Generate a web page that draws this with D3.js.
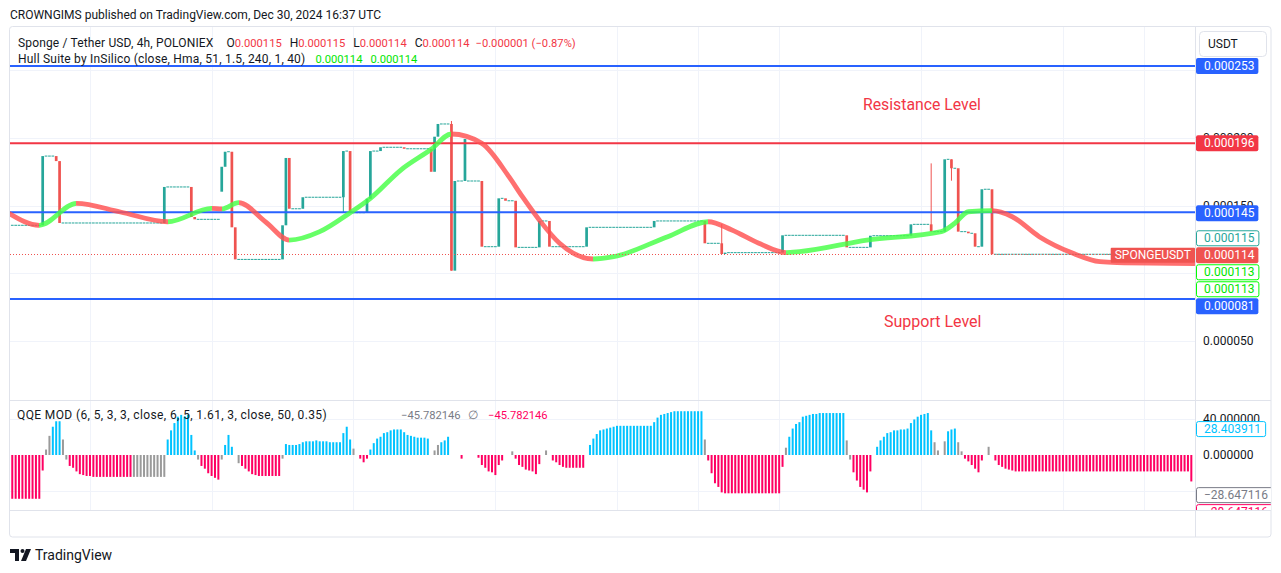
<!DOCTYPE html>
<html><head><meta charset="utf-8">
<script src="https://cdn.jsdelivr.net/npm/d3@7"></script>
<style>
html,body{margin:0;padding:0;background:#fff;}
svg{display:block;font-family:Roboto,"Noto Sans",sans-serif;}
</style></head><body>
<svg id="c" width="1281" height="573"></svg>
<script>
// ---------------- DATA ----------------
// bar numbers = count of 4h bars since 2024-11-01 00:00 UTC
const publishText = "CROWNGIMS published on TradingView.com, Dec 30, 2024 16:37 UTC";
const symbolTitle = "Sponge / Tether USD, 4h, POLONIEX";
const ohlcNames = ["O","H","L","C"];
const ohlcValues = ["0.000115","0.000115","0.000114","0.000114"];
const changeText = "\u22120.000001 (\u22120.87%)";
const hullTitle = "Hull Suite by InSilico (close, Hma, 51, 1.5, 240, 1, 40)";
const hullValues = ["0.000114","0.000114"];
const qqeTitle = "QQE MOD (6, 5, 3, 3, close, 6, 5, 1.61, 3, close, 50, 0.35)";
const qqeLegendValues = ["\u221245.782146","\u221245.782146"];

// candles with movement: [bar, open, high, low, close]
const candles = [
 [10,135.4e-6,186.5e-6,135.4e-6,186.5e-6],[14,186.5e-6,186.5e-6,182.8e-6,182.8e-6],[15,182.8e-6,182.8e-6,137.1e-6,137.1e-6],
 [46,137.1e-6,163.7e-6,137.1e-6,163.7e-6],[54,163.7e-6,163.7e-6,141.5e-6,141.5e-6],[55,141.5e-6,141.5e-6,139.8e-6,139.8e-6],
 [63,160.2e-6,178.6e-6,160.2e-6,178.6e-6],[64,178.6e-6,189.7e-6,178.6e-6,189.7e-6],[66,189.7e-6,189.7e-6,133.9e-6,133.9e-6],
 [67,133.9e-6,133.9e-6,110.2e-6,110.2e-6],[81,110.2e-6,135.4e-6,110.2e-6,135.4e-6],[82,135.4e-6,185.1e-6,135.4e-6,185.1e-6],
 [83,185.1e-6,185.1e-6,147.6e-6,147.6e-6],[87,147.6e-6,156.1e-6,147.6e-6,156.1e-6],[99,156.1e-6,190.2e-6,144.7e-6,190.2e-6],
 [101,190.2e-6,190.2e-6,144.7e-6,144.7e-6],[106,144.7e-6,155.0e-6,144.7e-6,155.0e-6],[107,155.0e-6,190.2e-6,155.0e-6,190.2e-6],
 [110,190.2e-6,193.0e-6,190.2e-6,193.0e-6],[117,193.0e-6,193.0e-6,191.9e-6,191.9e-6],[125,191.9e-6,191.9e-6,174.9e-6,174.9e-6],
 [126,174.9e-6,200.8e-6,174.9e-6,200.8e-6],[127,200.8e-6,210.2e-6,200.8e-6,210.2e-6],[131,210.2e-6,212.4e-6,101.9e-6,101.9e-6],
 [132,101.9e-6,168.1e-6,101.9e-6,168.1e-6],[135,168.1e-6,199.1e-6,168.1e-6,199.1e-6],[140,168.1e-6,168.1e-6,119.6e-6,119.6e-6],
 [145,119.6e-6,155.3e-6,119.6e-6,155.3e-6],[147,155.3e-6,155.3e-6,153.5e-6,153.5e-6],[150,153.5e-6,153.5e-6,119.1e-6,119.1e-6],
 [157,119.1e-6,138.6e-6,119.1e-6,138.6e-6],[160,138.6e-6,138.6e-6,119.6e-6,119.6e-6],[171,119.6e-6,133.9e-6,119.6e-6,133.9e-6],
 [191,133.9e-6,138.6e-6,133.9e-6,138.6e-6],[206,138.6e-6,138.6e-6,122.1e-6,122.1e-6],[211,122.1e-6,136.3e-6,114.2e-6,114.2e-6],
 [212,114.2e-6,115.2e-6,114.2e-6,115.2e-6],[229,115.2e-6,128.0e-6,115.2e-6,128.0e-6],[248,128.0e-6,128.0e-6,119.1e-6,119.1e-6],
 [255,119.1e-6,127.7e-6,119.1e-6,127.7e-6],[267,127.7e-6,136.1e-6,127.7e-6,136.1e-6],[273,136.1e-6,181.1e-6,130.7e-6,130.7e-6],
 [277,130.7e-6,184.1e-6,130.7e-6,184.1e-6],[279,184.1e-6,184.1e-6,168.3e-6,177.5e-6],[281,177.5e-6,177.5e-6,130.7e-6,130.7e-6],
 [284,130.7e-6,130.7e-6,129.5e-6,129.5e-6],[286,129.5e-6,129.5e-6,119.6e-6,119.6e-6],[288,119.6e-6,162.0e-6,119.6e-6,162.0e-6],
 [291,162.0e-6,162.0e-6,114.0e-6,114.0e-6]
];
// runs of bars with no movement (O=H=L=C): [firstBar, lastBar, price]
const flatRuns = [
 [1,9,135.4e-6],[11,13,186.5e-6],[16,45,137.1e-6],[47,53,163.7e-6],[56,62,139.8e-6],[65,65,189.7e-6],[68,80,110.2e-6],
 [84,86,147.6e-6],[88,98,156.1e-6],[100,100,190.2e-6],[102,105,144.7e-6],[108,109,190.2e-6],[111,116,193.0e-6],
 [118,124,191.9e-6],[128,130,210.2e-6],[133,134,168.1e-6],[136,139,168.1e-6],[141,144,119.6e-6],[146,146,155.3e-6],
 [148,149,153.5e-6],[151,156,119.1e-6],[158,159,138.6e-6],[161,170,119.6e-6],[172,190,133.9e-6],[192,205,138.6e-6],
 [207,210,122.1e-6],[213,228,115.2e-6],[230,247,128.0e-6],[249,254,119.1e-6],[256,266,127.7e-6],[268,272,136.1e-6],
 [274,276,130.7e-6],[278,278,184.1e-6],[280,280,177.5e-6],[282,283,130.7e-6],[285,285,129.5e-6],[287,287,119.6e-6],
 [289,290,162.0e-6],[292,351,114.0e-6]
];
// Hull MA read points: [bar, value]
const hullPoints = [
 [0,144.2e-6],[9,135.4e-6],[20,151.6e-6],[33,145.2e-6],[47,138.0e-6],[60,147.9e-6],[63,147.5e-6],[68,152.1e-6],
 [76,137.8e-6],[83,124.5e-6],[92,130.7e-6],[101,144.7e-6],[107,155.3e-6],[116,176.2e-6],[125,191.5e-6],[131,202.8e-6],
 [140,195.9e-6],[148,171.3e-6],[152,156.5e-6],[157,139.3e-6],[163,122.1e-6],[173,110.5e-6],[179,112.2e-6],[195,127.0e-6],
 [207,138.0e-6],[214,131.9e-6],[222,122.1e-6],[230,115.2e-6],[234,115.9e-6],[254,124.5e-6],[276,130.7e-6],[280,136.9e-6],
 [284,145.4e-6],[291,146.2e-6],[297,141.7e-6],[305,127.0e-6],[315,114.7e-6],[323,108.5e-6],[328,107.8e-6],[351,107.2e-6]
];
// horizontal levels drawn by the author
const levelPrices = [253e-6, 196e-6, 145e-6, 81e-6];
const levelTexts = ["Resistance Level","Support Level"];
const lastPrice = 114e-6;
const symbolLabel = "SPONGEUSDT";
const sideLabelValues = [115e-6, 113e-6, 113e-6];   // teal, lime, lime
// QQE histogram (one per 4h bar starting at bar 1)
const qqeFirstBar = 1;
const qqeValues = [
 -48,-48,-48,-48,-48,-48,-48,-48,-48,-17, 6,21,31,37,37,17,-5,-12,-14,-18,
 -21,-22,-23,-23,-24,-24,-24,-24,-24,-24, -24,-24,-24,-24,-24,-24,-24,-24,-24,-24,
 -24,-24,-24,-24,-24,-24,17,27,35,42, 44,42,44,22,5,-5,-12,-15,-20,-23,
 -25,-27,-5,11,22,9,0,-9,-12,-15, -18,-21,-22,-23,-23,-23,-23,-23,-23,-23,
 -4,12,11,11,11,12,14,15,15,15, 16,15,15,15,14,14,14,14,24,31,
 17,7,0,-4,-8,-4,6,13,18,20, 24,25,27,28,28,28,25,22,21,20,
 19,19,19,18,0,5,11,14,16,20, 0,0,0,-4,0,0,0,0,-3,-11,
 -14,-18,-19,-22,-11,-6,0,0,4,-4, -11,-13,-16,-17,-18,-21,-10,0,5,0,
 -6,-8,-11,-13,-14,-14,-14,-14,-14,-14, 0,11,18,23,27,28,29,30,31,32,
 32,32,32,32,32,32,32,32,32,32, 36,41,44,45,46,47,48,48,48,48,
 48,48,48,48,48,17,-6,-20,-31,-35, -41,-42,-42,-42,-42,-42,-42,-42,-42,-42,
 -42,-42,-42,-42,-42,-42,-42,-42,-13,8, 20,29,34,36,42,43,44,45,45,46,
 46,46,46,46,46,46,46,16,-5,-19, -28,-35,-38,-41,-18,0,9,16,20,24,
 25,27,27,28,28,29,35,39,42,44, 45,46,27,14,5,0,15,26,28,29,
 14,4,-4,-7,-11,-15,-19,-6,0,9, 0,-6,-11,-13,-15,-16,-17,-18,-18,-18,
 -18,-18,-18,-18,-18,-18,-18,-18,-18,-18, -18,-18,-18,-18,-18,-18,-18,-18,-18,-18,
 -18,-18,-18,-18,-18,-18,-18,-18,-18,-18, -18,-18,-18,-18,-18,-18,-18,-18,-18,-18,
 -18,-18,-18,-18,-18,-18,-18,-18,-18,-29
];
const qqeGrayIdx = [10,11,15,16,36,37,38,39,40,41,42,43,44,45,55,62,67,80,101,125,126,148,158,205,229,247,248,273,274,276,280,281,289];
const qqeSideValues = [28.403911, -28.647116];
const priceTicks = [50e-6, 100e-6, 150e-6, 200e-6, 250e-6];
const qqeTicks = [40, 0, -40];
const tickDates = ["2024-11-01","2024-11-05","2024-11-11","2024-11-18","2024-11-25","2024-12-01","2024-12-05","2024-12-09","2024-12-16","2024-12-23","2024-12-27"];
const tickLabels = ["Nov","5","11","18","25","Dec","5","9","16","23","27"];

// ---------------- LAYOUT ----------------
const PL=10, PR=1195, PT=27, PB=400, QT=400, QB=510, FR=1271, FB=537;
const C = {green:"#26a69a", red:"#ef5350", blue:"#2962ff", lvlRed:"#f23645", text:"#131722", grid:"#f0f3fa", border:"#e0e3eb",
  qBlue:"#00c3ff", qPink:"#ff0062", qGray:"#9a9a9a", hullG:"#45ff45", hullR:"#ff5050", lime:"#00e600"};
const t0 = Date.UTC(2024,10,1);
const barTime = k => new Date(t0 + k*4*3600e3);
const xs = d3.scaleUtc().domain([new Date(t0), new Date(Date.UTC(2024,11,29,12))]).range([8.9, 8.9+58.5*20.27]);
const ys = d3.scaleLinear().domain([6.4e-6, 281.8e-6]).range([PB, PT]);
const yq = d3.scaleLinear().domain([-60.3, 60.3]).range([QB, QT]);
const fmt6 = d => (d<0?"\u2212":"") + Math.abs(d).toFixed(6);

const svg = d3.select("#c");
const defs = svg.append("defs");
defs.append("clipPath").attr("id","cp").append("rect").attr("x",PL).attr("y",PT).attr("width",PR-PL).attr("height",PB-PT);
defs.append("clipPath").attr("id","cq").append("rect").attr("x",PL).attr("y",QT).attr("width",PR-PL).attr("height",QB-QT);
defs.append("clipPath").attr("id","cqa").append("rect").attr("x",PR).attr("y",QT).attr("width",FR-PR).attr("height",QB-QT);
defs.append("clipPath").attr("id","cx").append("rect").attr("x",PL).attr("y",QB).attr("width",PR-PL).attr("height",FB-QB);

// header
svg.append("text").attr("x",10).attr("y",19).attr("font-size",12).attr("fill",C.text).text(publishText);

// frame
svg.append("rect").attr("x",9.5).attr("y",26.5).attr("width",FR-9.5).attr("height",FB-26.5).attr("rx",3)
  .attr("fill","#fff").attr("stroke",C.border);

// grid
const grid = svg.append("g");
tickDates.forEach(d=>{
  const x = Math.round(xs(new Date(d+"T00:00:00Z")))+0.5;
  if (x>PL+1) grid.append("line").attr("x1",x).attr("x2",x).attr("y1",PT).attr("y2",QB).attr("stroke",C.grid).attr("stroke-width",1);
});
priceTicks.forEach(v=>{ const y=Math.round(ys(v))+0.5;
  grid.append("line").attr("x1",PL).attr("x2",PR).attr("y1",y).attr("y2",y).attr("stroke",C.grid);});
[40,-40].forEach(v=>{ const y=Math.round(yq(v))+0.5;
  grid.append("line").attr("x1",PL).attr("x2",PR).attr("y1",y).attr("y2",y).attr("stroke",C.grid);});

// separators
svg.append("line").attr("x1",PL).attr("x2",FR).attr("y1",QT+0.5).attr("y2",QT+0.5).attr("stroke",C.border);
svg.append("line").attr("x1",PL).attr("x2",FR).attr("y1",QB+0.5).attr("y2",QB+0.5).attr("stroke",C.border);
svg.append("line").attr("x1",PR+0.5).attr("x2",PR+0.5).attr("y1",PT).attr("y2",FB).attr("stroke",C.border);

// candles
const bw = 2.7;
const cg = svg.append("g").attr("clip-path","url(#cp)");
flatRuns.forEach(([a,b,p])=>{
  for (let k=a;k<=b;k++){
    cg.append("rect").attr("x",xs(barTime(k))-bw/2).attr("y",ys(p)-0.5).attr("width",bw).attr("height",1).attr("fill",C.green);
  }
});
candles.forEach(([k,o,h,l,c])=>{
  const x = xs(barTime(k)), col = c>=o?C.green:C.red;
  const y1 = ys(Math.max(o,c)), y2 = ys(Math.min(o,c));
  if (h>Math.max(o,c) || l<Math.min(o,c))
    cg.append("line").attr("x1",x).attr("x2",x).attr("y1",ys(h)).attr("y2",ys(l)).attr("stroke",col).attr("stroke-width",1);
  cg.append("rect").attr("x",x-bw/2).attr("y",y1).attr("width",bw).attr("height",Math.max(1,y2-y1)).attr("fill",col);
});

// level lines
levelPrices.forEach((p,i)=>{
  const y = ys(p);
  svg.append("line").attr("x1",PL).attr("x2",PR).attr("y1",y).attr("y2",y)
    .attr("stroke", i===1?C.lvlRed:C.blue).attr("stroke-width",2);
});
svg.append("text").attr("x",863).attr("y",110).attr("font-size",15.8).attr("fill",C.lvlRed).text(levelTexts[0]);
svg.append("text").attr("x",884).attr("y",327).attr("font-size",16).attr("fill",C.lvlRed).text(levelTexts[1]);

// hull line with trend colouring
const grad = defs.append("linearGradient").attr("id","hg").attr("gradientUnits","userSpaceOnUse")
  .attr("x1",0).attr("x2",1281).attr("y1",0).attr("y2",0);
for (let i=0;i<hullPoints.length-1;i++){
  const col = hullPoints[i+1][1] > hullPoints[i][1] ? C.hullG : C.hullR;
  grad.append("stop").attr("offset", xs(barTime(hullPoints[i][0]))/1281).attr("stop-color",col);
  grad.append("stop").attr("offset", xs(barTime(hullPoints[i+1][0]))/1281).attr("stop-color",col);
}
const hullLine = d3.line().x(d=>xs(barTime(d[0]))).y(d=>ys(d[1])).curve(d3.curveMonotoneX);
svg.append("g").attr("clip-path","url(#cp)").append("path").attr("d",hullLine(hullPoints))
  .attr("fill","none").attr("stroke","url(#hg)").attr("stroke-width",4.8).attr("stroke-opacity",0.82).attr("stroke-linecap","round");

// last price dotted line
svg.append("line").attr("x1",PL).attr("x2",1115).attr("y1",Math.round(ys(lastPrice))+0.5).attr("y2",Math.round(ys(lastPrice))+0.5)
  .attr("stroke",C.red).attr("stroke-dasharray","1,2");

// QQE histogram
const qg = svg.append("g").attr("clip-path","url(#cq)");
qqeValues.forEach((v,i)=>{
  if (v===0) return;
  const x = xs(barTime(qqeFirstBar+i));
  const col = qqeGrayIdx.includes(i) ? C.qGray : (v>0?C.qBlue:C.qPink);
  const y0 = yq(0), y1 = yq(v);
  qg.append("rect").attr("x",x-1).attr("width",2).attr("y",Math.min(y0,y1)).attr("height",Math.abs(y1-y0)).attr("fill",col);
});

// legends
const l1 = svg.append("text").attr("x",18).attr("y",47).attr("font-size",12).attr("fill",C.text);
l1.append("tspan").attr("letter-spacing",0.15).text(symbolTitle);
ohlcNames.forEach((n,i)=>{
  l1.append("tspan").attr("dx", i===0?13:8).attr("fill",C.text).text(n);
  l1.append("tspan").attr("fill",C.lvlRed).attr("font-size",11.2).text(ohlcValues[i]);
});
l1.append("tspan").attr("dx",6).attr("fill",C.lvlRed).attr("font-size",11.2).text(changeText);
const l2 = svg.append("text").attr("x",18).attr("y",63).attr("font-size",12).attr("fill",C.text);
l2.append("tspan").attr("letter-spacing",0.2).text(hullTitle);
hullValues.forEach((v,i)=> l2.append("tspan").attr("dx", i===0?10:8).attr("fill",C.lime).attr("font-size",11.2).text(v));

const l3 = svg.append("text").attr("x",17).attr("y",419).attr("font-size",12).attr("fill",C.text);
l3.append("tspan").attr("letter-spacing",0.38).text(qqeTitle);
svg.append("text").attr("x",401).attr("y",419).attr("font-size",11.2).attr("fill","#787b86").text(qqeLegendValues[0]);
svg.append("text").attr("x",468).attr("y",419).attr("font-size",12).attr("fill","#787b86").text("\u2205");
svg.append("text").attr("x",488).attr("y",419).attr("font-size",11.2).attr("fill",C.qPink).text(qqeLegendValues[1]);

// label centre positions on the price/QQE axes (collision-resolved around the last price)
const mainY = ys(lastPrice)+1;
const upLabels = [[sideLabelValues[0],"#fff",C.green,C.green]];
const downLabels = [[sideLabelValues[1],"#fff","#00ff00",C.lime],[sideLabelValues[2],"#fff","#00ff00",C.lime],[levelPrices[3],C.blue,null,"#fff"]];
let prevUp = mainY; upLabels.forEach(L=>{ L.y = Math.min(ys(L[0]), prevUp-17); prevUp=L.y; });
let prevDn = mainY; downLabels.forEach(L=>{ L.y = Math.max(ys(L[0]), prevDn+17); prevDn=L.y; });
const fixedLabels = [[levelPrices[0],C.blue,null,"#fff",ys(levelPrices[0])],[levelPrices[1],C.lvlRed,null,"#fff",ys(levelPrices[1])],
  [levelPrices[2],C.blue,null,"#fff",ys(levelPrices[2])+1],[lastPrice,C.red,null,"#fff",mainY]];
const priceLabelYs = [...upLabels.map(L=>L.y), ...downLabels.map(L=>L.y), ...fixedLabels.map(L=>L[4])];
const qLabelYs = [yq(qqeSideValues[0]), yq(qqeSideValues[1])+14, yq(qqeSideValues[1])+31];
const hidden = (y, ysList) => ysList.some(v=>Math.abs(v-y)<5);

// axes
const xAxis = d3.axisBottom(xs).tickValues(tickDates.map(d=>new Date(d+"T00:00:00Z")))
  .tickFormat((d,i)=>tickLabels[i]).tickSize(0).tickPadding(8);
const gx = svg.append("g").attr("transform",`translate(0,${QB+1})`).attr("clip-path","url(#cx)").call(xAxis);
gx.select(".domain").remove();
gx.selectAll("text").attr("font-size",12).attr("fill",C.text).attr("font-family","Roboto");

const yAxis = d3.axisRight(ys).tickValues(priceTicks).tickFormat(d=>hidden(ys(d),priceLabelYs)?"":d.toFixed(6)).tickSize(0).tickPadding(8);
const gy = svg.append("g").attr("transform",`translate(${PR},0)`).call(yAxis);
gy.select(".domain").remove();
gy.selectAll("text").attr("font-size",12).attr("fill",C.text).attr("font-family","Roboto");

const qAxis = d3.axisRight(yq).tickValues(qqeTicks).tickFormat(d=>hidden(yq(d),qLabelYs)?"":fmt6(d)).tickSize(0).tickPadding(8);
const gq = svg.append("g").attr("transform",`translate(${PR},0)`).call(qAxis);
gq.select(".domain").remove();
gq.selectAll("text").attr("font-size",12).attr("fill",C.text).attr("font-family","Roboto");

// axis value labels
function axisLabel(parent, yc, text, fill, stroke, tcol){
  const g = parent.append("g");
  const r = g.append("rect").attr("x",PR+1).attr("y",yc-8).attr("height",16).attr("rx",2)
    .attr("fill",fill).attr("stroke",stroke||"none");
  const t = g.append("text").attr("x",PR+9).attr("y",yc+4.2).attr("font-size",12).attr("fill",tcol).text(text);
  const w = t.node().getComputedTextLength();
  r.attr("width", w+12);
  if (stroke) r.attr("x",PR+1.5).attr("y",yc-7.5).attr("height",15);
  return g;
}
const al = svg.append("g");
upLabels.forEach(L=>axisLabel(al,L.y,L[0].toFixed(6),L[1],L[2],L[3]));
downLabels.forEach(L=>axisLabel(al,L.y,L[0].toFixed(6),L[1],L[2],L[3]));
fixedLabels.forEach(L=>axisLabel(al,L[4],L[0].toFixed(6),L[1],L[2],L[3]));
// symbol tag
const sg = svg.append("g");
const st = sg.append("text").attr("y",mainY+4.2).attr("font-size",12).attr("fill","#fff").text(symbolLabel);
const sw = st.node().getComputedTextLength();
sg.insert("rect","text").attr("x",PR-sw-8).attr("y",mainY-7.5).attr("width",sw+8).attr("height",15).attr("fill",C.red).attr("rx",1);
st.attr("x",PR-sw-4);

// QQE axis labels
const qa = svg.append("g").attr("clip-path","url(#cqa)");
axisLabel(qa, qLabelYs[0], qqeSideValues[0].toFixed(6), "#fff", C.qBlue, C.qBlue);
axisLabel(qa, qLabelYs[1], fmt6(qqeSideValues[1]), "#fff", "#787b86", "#787b86");
axisLabel(qa, qLabelYs[2], fmt6(qqeSideValues[1]), "#fff", C.qPink, C.qPink);

// USDT button
svg.append("rect").attr("x",1199.5).attr("y",31.5).attr("width",67).attr("height",25).attr("rx",4).attr("fill","#fff").attr("stroke",C.border);
svg.append("text").attr("x",1208).attr("y",48).attr("font-size",12).attr("fill",C.text).text("USDT");

// TradingView logo
const lg = svg.append("g").attr("fill",C.text);
lg.append("path").attr("d","M10 549h9v12h-4v-8h-5z");
lg.append("circle").attr("cx",22.5).attr("cy",551).attr("r",2);
lg.append("path").attr("d","M26 549h5l-5 12h-5z");
svg.append("text").attr("x",35).attr("y",560).attr("font-size",14).attr("fill",C.text).text("TradingView");
</script></body></html>
